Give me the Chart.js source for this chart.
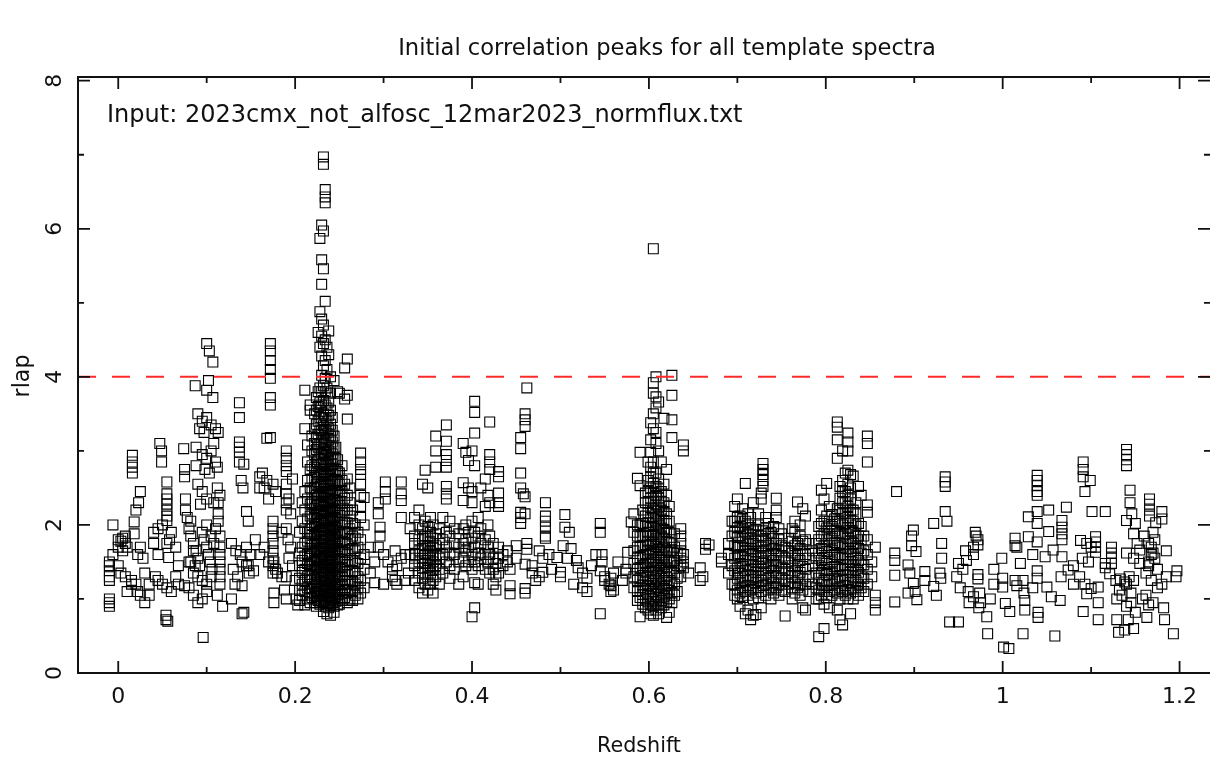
<!DOCTYPE html>
<html>
<head>
<meta charset="utf-8">
<title>Initial correlation peaks</title>
<script src="https://cdn.jsdelivr.net/npm/chart.js@4.4.1/dist/chart.umd.min.js"></script>
<style>
  html, body { margin: 0; padding: 0; background: #fff; }
  #wrap { width: 1210px; height: 759px; }
</style>
</head>
<body>
<div id="wrap"><canvas id="chart" width="1210" height="759"></canvas></div>
<script>
// each entry: [redshift, [rlap values of the templates peaking there]]
const lowZ = [
  [-0.010, [0.9, 0.95, 1.0, 1.25, 1.3, 1.38, 1.45, 1.5]],
  [-0.006, [1.6, 2.0]],
  [0.000, [1.45, 1.7, 1.8]],
  [0.003, [1.35, 1.78]],
  [0.005, [1.65, 1.82]],
  [0.008, [1.3, 1.75, 1.85]],
  [0.010, [1.1, 1.7]],
  [0.015, [1.2, 1.25]],
  [0.016, [2.7, 2.78, 2.85, 2.94]],
  [0.018, [1.88, 2.04]],
  [0.020, [1.2, 2.2]],
  [0.022, [1.1, 1.6]],
  [0.023, [2.3]],
  [0.025, [1.05, 1.7, 2.45]],
  [0.028, [1.55]],
  [0.030, [0.95, 1.35]],
  [0.035, [1.05, 1.2]],
  [0.040, [1.75, 1.9]],
  [0.042, [1.3]],
  [0.045, [1.25, 1.6, 1.95]],
  [0.047, [3.1]],
  [0.049, [2.85, 3.0]],
  [0.050, [1.2, 2.0]],
  [0.054, [0.72, 0.78]],
  [0.055, [1.15, 1.75, 2.06, 2.12, 2.2, 2.28, 2.35, 2.42, 2.58]],
  [0.056, [0.7]],
  [0.057, [1.56]],
  [0.058, [1.8]],
  [0.060, [1.1, 1.9]],
  [0.065, [1.3, 1.7]],
  [0.068, [1.2, 1.45]],
  [0.074, [3.03]],
  [0.075, [1.18, 2.65, 2.75]],
  [0.076, [2.2, 2.35]],
  [0.078, [2.1]],
  [0.080, [1.15, 1.5, 1.95]],
  [0.082, [1.5, 1.85, 2.05]],
  [0.085, [1.05, 1.35, 1.65, 1.75]],
  [0.087, [1.45, 3.88]],
  [0.088, [1.65, 2.8, 3.05]],
  [0.090, [0.95, 1.3, 1.55, 2.55, 3.5]],
  [0.092, [1.45, 3.3]],
  [0.093, [2.28]],
  [0.095, [1.0, 1.25, 1.9, 2.45, 2.95, 3.4]],
  [0.096, [0.48]],
  [0.097, [1.8, 3.25]],
  [0.098, [2.75]],
  [0.100, [1.1, 1.2, 1.7, 2.0, 2.35, 2.9, 3.45, 3.82, 4.45]],
  [0.102, [1.6, 3.95]],
  [0.103, [2.7, 4.35]],
  [0.104, [1.5]],
  [0.105, [1.3, 1.85, 3.0, 3.35]],
  [0.106, [1.4]],
  [0.107, [3.72, 4.2]],
  [0.108, [1.75, 2.3, 3.1]],
  [0.110, [1.95, 2.85, 3.3]],
  [0.112, [1.05, 2.5, 2.78]],
  [0.113, [2.05, 2.15, 2.3, 3.25]],
  [0.115, [1.2, 1.3, 1.4, 1.5, 1.6, 1.7, 1.85, 2.4]],
  [0.118, [0.9]],
  [0.128, [1.0, 1.75]],
  [0.130, [1.4]],
  [0.132, [1.2]],
  [0.133, [1.65]],
  [0.135, [1.3]],
  [0.137, [2.85, 2.98, 3.05, 3.12, 3.45, 3.65]],
  [0.138, [1.6]],
  [0.139, [2.6]],
  [0.140, [0.8, 1.18, 1.5]],
  [0.141, [2.5]],
  [0.142, [0.82, 2.82]],
  [0.145, [1.45, 1.7, 2.18]],
  [0.147, [1.45, 2.05]],
  [0.148, [1.35]],
  [0.150, [1.6]],
  [0.153, [1.38]],
  [0.155, [1.8]],
  [0.160, [1.6, 2.5, 2.65]],
  [0.163, [2.7]],
  [0.165, [1.7, 2.5]],
  [0.168, [2.6, 3.17]],
  [0.170, [1.5, 2.35]],
  [0.172, [3.18, 3.62, 3.72, 3.98, 4.1, 4.22, 4.35, 4.45]],
  [0.175, [1.35, 1.45, 1.55, 1.65, 1.75, 1.85, 1.95, 2.05, 2.55]],
  [0.176, [0.95, 1.08, 1.5]],
  [0.178, [1.4, 2.45]],
  [0.180, [1.35]],
  [0.185, [1.3, 1.9]],
  [0.188, [1.12]],
  [0.190, [1.0, 1.3, 1.95, 2.2, 2.3, 2.42, 2.55, 2.72, 2.8, 2.9, 3.0]],
  [0.192, [1.8]],
  [0.193, [1.55, 2.35]],
  [0.195, [1.7, 2.15]],
  [0.197, [1.45, 2.62]],
  [0.200, [1.25]],
  [0.201, [1.0]],
  [0.203, [0.92]]
];

const peak023 = [
  [0.205, [0.98, 1.12, 1.28, 1.45, 1.62, 1.9]],
  [0.208, [1.05, 1.2, 1.36, 1.52, 1.7, 2.05, 2.3]],
  [0.211, [0.92, 1.1, 1.25, 1.4, 1.58, 1.75, 1.95, 2.2, 2.45, 3.3, 3.82]],
  [0.214, [1.0, 1.15, 1.3, 1.48, 1.6, 1.78, 1.9, 2.08, 2.35, 2.6, 2.85, 3.08]],
  [0.217, [0.95, 1.08, 1.2, 1.33, 1.45, 1.57, 1.68, 1.82, 1.95, 2.12, 2.28, 2.5, 2.75, 3.55, 3.62]],
  [0.219, [1.02, 1.14, 1.26, 1.38, 1.5, 1.62, 1.73, 1.86, 2.0, 2.15, 2.3, 2.45, 2.62, 2.8, 3.0, 3.2]],
  [0.222, [0.95, 1.05, 1.17, 1.28, 1.4, 1.52, 1.63, 1.75, 1.87, 1.98, 2.1, 2.22, 2.36, 2.5, 2.64, 2.78, 2.95, 3.1, 3.3, 3.5]],
  [0.224, [0.9, 1.0, 1.1, 1.22, 1.33, 1.44, 1.55, 1.66, 1.78, 1.9, 2.02, 2.14, 2.26, 2.4, 2.55, 2.7, 2.85, 3.02, 3.18, 3.36, 3.55, 3.72]],
  [0.226, [0.98, 1.08, 1.18, 1.3, 1.42, 1.53, 1.64, 1.75, 1.86, 1.97, 2.08, 2.2, 2.32, 2.45, 2.58, 2.72, 2.88, 3.05, 3.22, 3.4, 3.6, 3.8, 4.6]],
  [0.228, [0.93, 1.03, 1.13, 1.24, 1.35, 1.46, 1.57, 1.68, 1.8, 1.92, 2.04, 2.16, 2.28, 2.4, 2.52, 2.66, 2.8, 2.95, 3.1, 3.28, 3.45, 3.65, 3.85, 4.4, 4.88, 5.87]],
  [0.230, [0.97, 1.07, 1.17, 1.28, 1.39, 1.5, 1.61, 1.72, 1.83, 1.94, 2.06, 2.18, 2.3, 2.42, 2.55, 2.68, 2.82, 2.96, 3.12, 3.28, 3.45, 3.62, 3.8, 4.02, 4.28, 4.55, 4.78, 5.25, 5.58, 6.05]],
  [0.232, [0.83, 0.95, 1.05, 1.15, 1.25, 1.36, 1.47, 1.58, 1.69, 1.8, 1.91, 2.02, 2.13, 2.25, 2.37, 2.49, 2.62, 2.75, 2.89, 3.03, 3.18, 3.34, 3.5, 3.68, 3.88, 4.15, 4.45, 4.7, 5.46, 5.97, 6.87, 6.97]],
  [0.234, [0.9, 1.0, 1.1, 1.2, 1.31, 1.42, 1.53, 1.64, 1.75, 1.86, 1.97, 2.08, 2.2, 2.32, 2.44, 2.57, 2.7, 2.84, 2.98, 3.13, 3.29, 3.45, 3.62, 3.8, 3.98, 4.22, 4.5, 5.02, 6.35, 6.43, 6.53]],
  [0.236, [0.8, 0.94, 1.04, 1.14, 1.25, 1.36, 1.47, 1.58, 1.69, 1.8, 1.92, 2.04, 2.16, 2.28, 2.4, 2.53, 2.66, 2.8, 2.94, 3.08, 3.24, 3.4, 3.58, 3.85, 4.1, 4.4]],
  [0.238, [0.88, 0.98, 1.08, 1.19, 1.3, 1.41, 1.52, 1.63, 1.74, 1.85, 1.96, 2.08, 2.2, 2.32, 2.45, 2.58, 2.72, 2.86, 3.0, 3.15, 3.3, 3.48, 3.66, 4.3, 4.62]],
  [0.240, [0.78, 0.92, 1.02, 1.12, 1.23, 1.34, 1.45, 1.56, 1.67, 1.78, 1.89, 2.0, 2.12, 2.24, 2.36, 2.49, 2.62, 2.76, 2.9, 3.05, 3.2, 3.36, 3.55, 3.78, 4.0]],
  [0.242, [0.95, 1.05, 1.16, 1.27, 1.38, 1.49, 1.6, 1.71, 1.82, 1.94, 2.06, 2.18, 2.3, 2.42, 2.55, 2.68, 2.82, 2.96, 3.12, 3.28, 3.45]],
  [0.244, [0.82, 0.9, 1.0, 1.1, 1.21, 1.32, 1.43, 1.54, 1.65, 1.76, 1.87, 1.98, 2.1, 2.22, 2.34, 2.47, 2.6, 2.74, 2.88, 3.04, 3.2, 3.95]],
  [0.246, [0.97, 1.07, 1.18, 1.29, 1.4, 1.51, 1.62, 1.73, 1.84, 1.96, 2.08, 2.2, 2.33, 2.46, 2.6, 2.75, 2.9, 3.05]],
  [0.248, [0.92, 1.02, 1.13, 1.24, 1.35, 1.46, 1.57, 1.68, 1.8, 1.92, 2.04, 2.17, 2.3, 2.44, 2.58, 2.72, 2.88, 3.8]],
  [0.250, [0.93, 1.0, 1.1, 1.2, 1.31, 1.42, 1.53, 1.64, 1.76, 1.88, 2.0, 2.13, 2.26, 2.4, 2.55, 2.7, 3.78]],
  [0.253, [0.98, 1.08, 1.19, 1.3, 1.42, 1.54, 1.66, 1.78, 1.9, 2.03, 2.16, 2.3, 2.45, 2.6, 2.8]],
  [0.256, [1.02, 1.13, 1.25, 1.37, 1.5, 1.63, 1.76, 1.9, 2.04, 2.2, 2.36, 2.55, 3.7, 4.12]],
  [0.259, [0.95, 1.08, 1.2, 1.33, 1.46, 1.6, 1.74, 1.88, 2.03, 2.2, 2.4, 2.62, 3.43, 3.75, 4.24]],
  [0.262, [1.0, 1.12, 1.25, 1.38, 1.52, 1.66, 1.8, 1.95, 2.12, 2.3, 2.5]],
  [0.265, [0.98, 1.1, 1.23, 1.37, 1.52, 1.68, 1.85, 2.02, 2.2]],
  [0.268, [1.05, 1.2, 1.35, 1.5, 1.65, 1.82, 2.0]],
  [0.271, [1.0, 1.15, 1.3, 1.48, 1.7, 1.9]],
  [0.274, [1.08, 1.25, 1.55, 1.8, 2.1, 2.25, 2.4, 2.55, 2.68, 2.75, 2.85, 2.97]],
  [0.278, [1.15, 1.4, 1.6, 2.0, 2.37]],
  [0.285, [1.35, 1.7]],
  [0.290, [1.22, 1.5]],
  [0.294, [1.7, 2.15, 2.3]],
  [0.296, [1.85, 1.97]],
  [0.300, [1.2, 1.6]],
  [0.302, [2.35, 2.45, 2.58]],
  [0.305, [1.5]],
  [0.310, [1.3, 1.4]],
  [0.313, [1.25, 1.65]],
  [0.315, [1.2, 1.45]],
  [0.320, [1.55, 2.1, 2.33, 2.42, 2.58]],
  [0.325, [1.25, 1.6]],
  [0.328, [1.35]],
  [0.330, [1.6, 1.95]]
];

const midZ = [
  [0.335, [1.25, 1.45, 1.55, 1.6, 1.75, 1.85, 2.1]],
  [0.340, [1.15, 1.35, 1.5, 1.65, 1.8, 2.0, 2.2]],
  [0.344, [1.08, 1.28, 1.42, 1.55, 1.68, 1.82, 1.95, 2.55]],
  [0.347, [1.2, 1.35, 1.48, 1.6, 1.72, 1.85, 2.05, 2.74]],
  [0.350, [1.12, 1.3, 1.42, 1.52, 1.62, 1.72, 1.84, 1.98, 2.5]],
  [0.353, [1.2, 1.35, 1.45, 1.55, 1.65, 1.78, 1.9, 2.1]],
  [0.356, [1.08, 1.25, 1.4, 1.5, 1.6, 1.7, 1.82, 2.0]],
  [0.359, [1.3, 1.45, 1.58, 1.72, 1.88, 2.78, 3.0, 3.2]],
  [0.363, [1.2, 1.4, 1.55, 1.75, 1.95]],
  [0.367, [1.35, 1.6, 1.8, 2.1]],
  [0.371, [1.5, 1.7, 1.9, 2.35, 2.42, 2.52, 2.78, 2.87, 2.95, 3.13, 3.35]],
  [0.375, [1.28, 1.45, 1.62, 1.85, 2.05]],
  [0.380, [1.4, 1.6, 1.75, 1.95]],
  [0.385, [1.2, 1.5, 1.7, 1.88]],
  [0.390, [1.3, 1.55, 1.75, 1.95, 2.33, 2.57, 3.1]],
  [0.393, [1.45, 1.65, 1.8, 2.0, 2.98]],
  [0.396, [1.5, 1.7, 1.9, 2.5, 2.87]],
  [0.400, [0.76, 1.4, 1.6, 1.82, 2.05, 2.3, 2.45, 3.0]],
  [0.403, [0.88, 1.22, 1.5, 1.7, 1.9, 2.8, 3.24, 3.52, 3.67]],
  [0.407, [1.2, 1.45, 1.62, 1.85, 2.1]],
  [0.410, [1.55, 1.75, 1.95, 2.5]],
  [0.415, [1.4, 1.6, 1.8, 2.25, 2.62]],
  [0.418, [1.5, 1.7, 2.0, 2.4]],
  [0.420, [1.35, 1.6, 1.85, 2.3, 2.75, 2.85, 2.95, 3.39]],
  [0.424, [1.2, 1.4, 1.55, 1.75]],
  [0.427, [1.12, 1.3, 1.48]],
  [0.430, [1.35, 1.55, 1.7, 2.25, 2.3, 2.43, 2.65, 2.72]],
  [0.435, [1.45, 1.6]],
  [0.440, [1.5, 1.65]],
  [0.443, [1.07, 1.18, 1.4]],
  [0.450, [1.55, 1.72]],
  [0.455, [2.02, 2.1, 2.17, 2.5, 2.7, 3.03, 3.18]],
  [0.458, [2.42]],
  [0.460, [1.08, 1.14, 1.47, 2.15, 2.38, 3.33, 3.42, 3.5]],
  [0.462, [1.67, 1.75, 3.85]],
  [0.468, [1.35, 1.45]],
  [0.472, [1.25]],
  [0.476, [1.3, 1.65]],
  [0.480, [1.36, 1.55]],
  [0.483, [1.82, 1.85, 1.97, 2.05, 2.12, 2.3]],
  [0.487, [1.6]],
  [0.490, [1.4]],
  [0.496, [1.56]],
  [0.500, [1.3, 1.36]],
  [0.503, [1.72]],
  [0.505, [1.97, 2.14]],
  [0.508, [1.55]],
  [0.510, [1.9]],
  [0.512, [1.68]],
  [0.515, [1.2]],
  [0.518, [1.52]],
  [0.520, [1.42]],
  [0.525, [1.15, 1.35]],
  [0.530, [1.1, 1.28]],
  [0.535, [1.45]],
  [0.540, [1.6]],
  [0.545, [0.8, 1.38, 1.9, 2.02]],
  [0.547, [1.5, 1.6]],
  [0.550, [1.25, 1.3]],
  [0.555, [1.2]],
  [0.557, [1.1, 1.18, 1.28]],
  [0.560, [1.12, 1.35]],
  [0.565, [1.5]],
  [0.570, [1.25]],
  [0.574, [1.35, 1.4]],
  [0.576, [1.63]],
  [0.580, [2.04]]
];

const peak061 = [
  [0.583, [1.15, 1.3, 1.48, 1.65, 1.9, 2.15]],
  [0.587, [0.98, 1.1, 1.25, 1.4, 1.55, 1.7, 1.85, 2.0, 2.63]],
  [0.590, [0.76, 1.02, 1.15, 1.28, 1.42, 1.56, 1.7, 1.84, 2.0, 2.53, 2.98]],
  [0.593, [0.93, 1.06, 1.19, 1.32, 1.45, 1.58, 1.72, 1.86, 2.02, 2.2]],
  [0.596, [0.88, 1.0, 1.12, 1.24, 1.36, 1.48, 1.6, 1.72, 1.85, 1.98, 2.12, 2.3, 2.43]],
  [0.599, [0.85, 0.96, 1.07, 1.18, 1.3, 1.42, 1.54, 1.66, 1.78, 1.9, 2.03, 2.16, 2.3, 2.45, 2.6, 2.85]],
  [0.602, [0.8, 0.92, 1.03, 1.14, 1.26, 1.38, 1.5, 1.62, 1.74, 1.86, 1.98, 2.1, 2.23, 2.36, 2.5, 2.65, 2.78, 2.98, 3.15, 3.38]],
  [0.605, [0.78, 0.9, 1.0, 1.1, 1.21, 1.32, 1.43, 1.54, 1.65, 1.76, 1.87, 1.98, 2.09, 2.2, 2.32, 2.44, 2.56, 2.7, 2.85, 3.3, 3.5, 3.78, 3.92, 5.73]],
  [0.608, [0.85, 0.96, 1.06, 1.16, 1.27, 1.38, 1.49, 1.6, 1.71, 1.82, 1.93, 2.04, 2.15, 2.27, 2.4, 2.52, 2.7, 3.1, 3.25, 3.58, 3.73, 4.0]],
  [0.611, [0.8, 0.92, 1.02, 1.12, 1.23, 1.34, 1.45, 1.56, 1.67, 1.78, 1.89, 2.0, 2.12, 2.24, 2.36, 2.5, 2.62, 3.0, 3.66]],
  [0.614, [0.88, 0.98, 1.08, 1.19, 1.3, 1.41, 1.52, 1.63, 1.74, 1.85, 1.96, 2.08, 2.2, 2.32, 2.45, 2.85]],
  [0.617, [0.92, 1.03, 1.14, 1.25, 1.36, 1.47, 1.58, 1.7, 1.82, 1.94, 2.06, 2.18, 2.3, 2.55, 3.44]],
  [0.620, [0.75, 0.96, 1.07, 1.18, 1.3, 1.42, 1.54, 1.66, 1.78, 1.9, 2.02, 2.15, 2.4, 2.75]],
  [0.623, [0.82, 1.0, 1.12, 1.25, 1.38, 1.5, 1.63, 1.76, 1.9, 2.05, 2.25]],
  [0.626, [0.95, 1.08, 1.22, 1.36, 1.5, 1.65, 1.8, 3.18, 3.42, 3.75, 4.02]],
  [0.629, [1.05, 1.2, 1.35, 1.52, 1.7, 1.88]],
  [0.632, [1.1, 1.28, 1.45, 1.62]],
  [0.636, [1.3, 1.45, 1.55, 1.65, 1.75, 1.85, 1.95]],
  [0.639, [1.42, 1.5, 1.6, 3.0, 3.08]],
  [0.645, [1.35]],
  [0.658, [1.25, 1.42]],
  [0.661, [1.3]],
  [0.664, [1.67, 1.75]],
  [0.668, [1.73]],
  [0.682, [1.5, 1.55]],
  [0.690, [1.35, 1.6, 1.75]],
  [0.694, [1.2, 1.45, 1.85, 2.05]]
];

const cluster072 = [
  [0.697, [1.05, 1.2, 1.38, 1.55, 1.72, 1.9, 2.05, 2.25]],
  [0.700, [1.0, 1.12, 1.28, 1.42, 1.58, 1.7, 1.83, 1.96, 2.1, 2.35]],
  [0.703, [0.9, 1.08, 1.22, 1.35, 1.48, 1.6, 1.72, 1.85, 1.98, 2.12]],
  [0.706, [1.02, 1.15, 1.3, 1.44, 1.57, 1.7, 1.82, 1.95, 2.08, 2.22]],
  [0.709, [0.8, 1.1, 1.25, 1.38, 1.52, 1.65, 1.78, 1.9, 2.05, 2.56]],
  [0.712, [0.85, 1.05, 1.18, 1.32, 1.46, 1.6, 1.74, 1.88, 2.0, 2.15]],
  [0.715, [0.72, 1.12, 1.26, 1.4, 1.54, 1.68, 1.82, 1.96, 2.1]],
  [0.718, [0.78, 1.0, 1.15, 1.3, 1.45, 1.6, 1.75, 1.92, 2.3]],
  [0.721, [0.79, 1.08, 1.22, 1.36, 1.5, 1.64, 1.78, 1.94]],
  [0.724, [1.02, 1.15, 1.3, 1.44, 1.58, 1.72, 1.86, 2.0, 2.15]],
  [0.727, [0.88, 1.1, 1.25, 1.4, 1.55, 1.7, 1.85, 2.35, 2.43]],
  [0.729, [1.18, 1.32, 1.48, 1.62, 1.78, 1.92, 2.52, 2.6, 2.68, 2.75, 2.83]],
  [0.732, [1.05, 1.2, 1.35, 1.5, 1.65, 1.8, 1.95, 2.1]],
  [0.735, [1.12, 1.28, 1.42, 1.58, 1.72, 1.88, 2.02]],
  [0.738, [1.0, 1.15, 1.3, 1.45, 1.6, 1.75, 1.9]],
  [0.741, [1.08, 1.22, 1.38, 1.52, 1.68, 1.82, 1.98]],
  [0.744, [1.15, 1.3, 1.45, 1.6, 1.75, 2.1, 2.2, 2.36]],
  [0.747, [1.05, 1.2, 1.35, 1.5, 1.65, 1.8, 1.95]],
  [0.750, [1.12, 1.28, 1.42, 1.58, 1.72, 1.88]],
  [0.754, [0.77, 1.1, 1.25, 1.4, 1.55, 1.7]],
  [0.758, [1.2, 1.35, 1.5, 1.65, 1.82]],
  [0.762, [1.0, 1.15, 1.3, 1.45, 1.62, 1.78, 1.95]],
  [0.765, [1.08, 1.22, 1.38, 1.55, 1.72, 1.9, 2.05]],
  [0.768, [1.15, 1.3, 1.45, 1.6, 1.75, 2.31]],
  [0.771, [1.05, 1.2, 1.36, 1.52, 1.68, 1.85, 2.0]],
  [0.774, [0.88, 1.12, 1.28, 1.44, 1.6, 1.78, 2.22]],
  [0.777, [0.85, 1.2, 1.4, 1.6, 1.8, 2.12]],
  [0.781, [1.1, 1.3, 1.55, 1.75]],
  [0.785, [1.2, 1.45, 1.65]]
];

const cluster082 = [
  [0.789, [1.0, 1.15, 1.35, 1.55, 1.75]],
  [0.792, [0.49, 1.0, 1.12, 1.28, 1.45, 1.62, 1.8, 1.98]],
  [0.795, [1.05, 1.2, 1.36, 1.52, 1.68, 1.85, 2.02, 2.2, 2.47]],
  [0.798, [0.6, 0.93, 1.1, 1.25, 1.4, 1.56, 1.72, 1.88, 2.05, 2.35]],
  [0.801, [1.02, 1.18, 1.33, 1.48, 1.64, 1.8, 1.96, 2.12, 2.56]],
  [0.804, [0.88, 1.1, 1.25, 1.4, 1.56, 1.72, 1.88, 2.05, 2.25]],
  [0.807, [1.05, 1.2, 1.35, 1.5, 1.66, 1.82, 1.98, 2.14]],
  [0.810, [1.12, 1.28, 1.44, 1.6, 1.76, 1.92, 2.08]],
  [0.813, [0.85, 1.08, 1.24, 1.4, 1.56, 1.72, 1.88, 2.05, 2.22, 2.9, 3.15, 3.32, 3.39]],
  [0.816, [0.72, 1.0, 1.15, 1.3, 1.45, 1.6, 1.75, 1.9, 2.05, 2.2, 2.36, 2.52]],
  [0.819, [0.65, 1.1, 1.25, 1.4, 1.55, 1.7, 1.85, 2.0, 2.15, 2.3, 2.45, 2.6, 3.0]],
  [0.822, [1.05, 1.18, 1.32, 1.46, 1.6, 1.74, 1.88, 2.02, 2.16, 2.3, 2.45, 2.7]],
  [0.825, [1.0, 1.12, 1.26, 1.4, 1.54, 1.68, 1.82, 1.96, 2.1, 2.25, 2.4, 2.55, 2.74, 3.0, 3.12, 3.24]],
  [0.828, [0.8, 1.08, 1.22, 1.36, 1.5, 1.64, 1.78, 1.92, 2.06, 2.2, 2.35, 2.5, 2.68]],
  [0.831, [1.0, 1.15, 1.3, 1.45, 1.6, 1.75, 1.9, 2.05, 2.2, 2.66]],
  [0.834, [1.1, 1.25, 1.4, 1.55, 1.7, 1.85, 2.0, 2.15, 2.3]],
  [0.837, [1.05, 1.2, 1.36, 1.52, 1.68, 1.85, 2.02, 2.52]],
  [0.840, [1.15, 1.3, 1.46, 1.62, 1.8, 1.98, 2.4]],
  [0.843, [1.1, 1.28, 1.46, 1.65, 1.85]],
  [0.847, [1.2, 1.4, 1.6, 1.8, 2.17, 2.27, 2.85, 3.1, 3.2]],
  [0.852, [1.3, 1.5]],
  [0.856, [0.85, 0.95, 1.05, 1.7]]
];

const highZ = [
  [0.878, [0.96, 1.32, 1.52, 1.62]],
  [0.880, [2.45]],
  [0.893, [1.08, 1.46]],
  [0.895, [1.35]],
  [0.897, [1.72, 1.85]],
  [0.899, [1.21, 1.93]],
  [0.901, [1.1]],
  [0.902, [1.64]],
  [0.903, [0.99]],
  [0.912, [1.25, 1.37]],
  [0.922, [1.17, 2.02]],
  [0.925, [1.05]],
  [0.929, [1.35]],
  [0.930, [1.28]],
  [0.931, [1.55, 1.75]],
  [0.935, [2.18, 2.52, 2.58, 2.65]],
  [0.937, [2.05]],
  [0.940, [0.69]],
  [0.948, [1.3]],
  [0.950, [0.69, 1.48]],
  [0.952, [1.15]],
  [0.955, [1.4]],
  [0.958, [1.65]],
  [0.959, [1.52]],
  [0.961, [1.1]],
  [0.962, [0.95]],
  [0.967, [1.03, 1.6, 1.7]],
  [0.969, [1.9]],
  [0.970, [1.85]],
  [0.972, [1.27, 1.33, 1.73, 1.8]],
  [0.973, [0.88]],
  [0.974, [1.08]],
  [0.975, [0.95]],
  [0.982, [0.76]],
  [0.983, [0.53]],
  [0.986, [1.0]],
  [0.990, [1.2, 1.4]],
  [0.999, [1.55]],
  [1.000, [1.16, 1.28]],
  [1.001, [0.35]],
  [1.003, [0.94]],
  [1.007, [0.33]],
  [1.008, [0.83]],
  [1.014, [1.25, 1.72, 1.82]],
  [1.016, [1.18, 1.7]],
  [1.020, [1.48]],
  [1.023, [0.53, 1.25]],
  [1.024, [1.08]],
  [1.025, [0.85, 0.98]],
  [1.029, [1.84, 2.11]],
  [1.034, [1.15, 1.6]],
  [1.039, [1.28, 1.38, 1.77, 2.02, 2.18, 2.4, 2.45, 2.53, 2.6, 2.67]],
  [1.040, [0.75, 0.82]],
  [1.048, [1.57]],
  [1.050, [1.16]],
  [1.052, [1.91, 2.2]],
  [1.055, [1.03]],
  [1.057, [1.66]],
  [1.059, [0.5]],
  [1.065, [0.98]],
  [1.066, [1.3]],
  [1.067, [1.57, 1.8, 1.88, 1.97, 2.06]],
  [1.072, [2.24]],
  [1.074, [1.39]],
  [1.080, [1.2, 1.45]],
  [1.087, [1.3]],
  [1.088, [1.79]],
  [1.090, [1.55]],
  [1.091, [0.83, 2.65, 2.75, 2.85]],
  [1.093, [1.2, 2.45]],
  [1.095, [1.07, 1.75]],
  [1.097, [1.5]],
  [1.099, [2.6]],
  [1.100, [1.14, 1.7]],
  [1.101, [2.18]],
  [1.105, [1.63, 1.7, 1.77, 1.84]],
  [1.108, [0.72, 0.95, 1.16]],
  [1.116, [1.42, 1.48, 2.18]],
  [1.121, [1.34]],
  [1.123, [1.48, 1.55, 1.62, 1.7]],
  [1.128, [1.25]],
  [1.129, [0.72, 1.0]],
  [1.131, [0.55]],
  [1.132, [1.12]],
  [1.133, [1.27]],
  [1.135, [1.05]],
  [1.138, [0.58, 1.23]],
  [1.140, [0.9, 1.2, 1.62, 2.06, 2.8, 2.88, 2.95, 3.02]],
  [1.142, [0.72]],
  [1.143, [1.3]],
  [1.144, [2.3, 2.47]],
  [1.145, [0.95, 1.08]],
  [1.146, [2.15]],
  [1.148, [0.6, 1.25, 1.55, 1.88]],
  [1.150, [0.82, 2.02]],
  [1.152, [1.75]],
  [1.155, [1.48, 1.66]],
  [1.158, [1.0]],
  [1.160, [1.85]],
  [1.162, [1.05, 1.35]],
  [1.163, [0.75]],
  [1.165, [0.92, 1.45, 1.5, 1.75]],
  [1.166, [2.12, 2.2, 2.28, 2.35]],
  [1.168, [1.25, 1.6, 1.7]],
  [1.170, [0.95, 1.62, 1.9]],
  [1.172, [1.55, 1.8]],
  [1.173, [2.03]],
  [1.175, [1.15, 1.4]],
  [1.180, [1.2, 2.08, 2.18]],
  [1.182, [0.88]],
  [1.183, [0.72]],
  [1.185, [1.3, 1.65]],
  [1.193, [0.53]],
  [1.196, [1.3]],
  [1.197, [1.38]]
];

const xTicks = [0, 0.2, 0.4, 0.6, 0.8, 1.0, 1.2];
const xTickLabels = ['0', '0.2', '0.4', '0.6', '0.8', '1', '1.2'];
const xMinorTicks = [0.1, 0.3, 0.5, 0.7, 0.9, 1.1];
const yTicks = [0, 2, 4, 6, 8];
const yTickLabels = ['0', '2', '4', '6', '8'];
const yMinorTicks = [1, 3, 5, 7];
const threshold = 4;

const X_MIN = -0.0455, X_MAX = 1.2344;
const Y_MIN = 0, Y_MAX = 8.05;

const FONT = '"DejaVu Sans", sans-serif';

function toPoints(columns) {
    return columns.flatMap(([z, rs]) => rs.map(r => ({ x: z, y: r })));
}

// font size that makes text span the given width
function fitFont(ctx, text, width) {
    ctx.font = '20px ' + FONT;
    return 20 * width / ctx.measureText(text).width;
}

const framePlugin = {
    id: 'frame',
    afterDraw(chart) {
        const ctx = chart.ctx;
        const a = chart.chartArea;
        const xs = chart.scales.x, ys = chart.scales.y;
        ctx.save();
        ctx.strokeStyle = '#111';
        ctx.lineWidth = 2;
        // the right edge of the box sits just outside the canvas
        ctx.strokeRect(a.left, a.top, a.right + 2 - a.left, a.bottom - a.top);

        ctx.lineWidth = 1.8;
        ctx.beginPath();
        const tick = (list, len) => {
            list.forEach(v => {
                const px = xs.getPixelForValue(v);
                ctx.moveTo(px, a.bottom); ctx.lineTo(px, a.bottom - len);
                ctx.moveTo(px, a.top); ctx.lineTo(px, a.top + len);
            });
        };
        const ytick = (list, len) => {
            list.forEach(v => {
                const py = ys.getPixelForValue(v);
                ctx.moveTo(a.left, py); ctx.lineTo(a.left + len, py);
                ctx.moveTo(a.right, py); ctx.lineTo(a.right - len, py);
            });
        };
        tick(xTicks, 12); tick(xMinorTicks, 6);
        ytick(yTicks, 12); ytick(yMinorTicks, 6);
        ctx.stroke();

        ctx.fillStyle = '#111';
        ctx.font = '22px ' + FONT;
        ctx.textAlign = 'center';
        ctx.textBaseline = 'alphabetic';
        xTicks.forEach((v, i) => {
            ctx.fillText(xTickLabels[i], xs.getPixelForValue(v), 703);
        });
        yTicks.forEach((v, i) => {
            ctx.save();
            ctx.translate(61, ys.getPixelForValue(v));
            ctx.rotate(-Math.PI / 2);
            ctx.fillText(yTickLabels[i], 0, 0);
            ctx.restore();
        });

        const title = 'Initial correlation peaks for all template spectra';
        ctx.font = fitFont(ctx, title, 538) + 'px ' + FONT;
        ctx.fillText(title, 667, 55);

        const xlab = 'Redshift';
        ctx.font = fitFont(ctx, xlab, 84) + 'px ' + FONT;
        ctx.fillText(xlab, 639, 752);

        const ylab = 'rlap';
        ctx.font = fitFont(ctx, ylab, 43) + 'px ' + FONT;
        ctx.save();
        ctx.translate(29, 376);
        ctx.rotate(-Math.PI / 2);
        ctx.fillText(ylab, 0, 0);
        ctx.restore();

        const note = 'Input: 2023cmx_not_alfosc_12mar2023_normflux.txt';
        ctx.font = fitFont(ctx, note, 636) + 'px ' + FONT;
        ctx.textAlign = 'left';
        ctx.fillText(note, 107, 122);
        ctx.restore();
    }
};

document.addEventListener('DOMContentLoaded', () => {
    const points = [lowZ, peak023, midZ, peak061, cluster072, cluster082, highZ].flatMap(toPoints);

    new Chart(document.getElementById('chart').getContext('2d'), {
        type: 'scatter',
        data: {
            datasets: [
                {
                    label: 'threshold',
                    type: 'line',
                    data: [{ x: X_MIN, y: threshold }, { x: X_MAX, y: threshold }],
                    borderColor: '#ff2a2a',
                    borderWidth: 2,
                    borderDash: [18, 16],
                    pointRadius: 0,
                    fill: false,
                    order: 0
                },
                {
                    label: 'peaks',
                    data: points,
                    pointStyle: 'rect',
                    pointRadius: 7,
                    pointBorderWidth: 1.1,
                    borderColor: '#000',
                    backgroundColor: 'rgba(0,0,0,0)',
                    order: 1
                }
            ]
        },
        options: {
            responsive: false,
            animation: false,
            devicePixelRatio: 1,
            events: [],
            layout: { autoPadding: false, padding: { left: 78, top: 77, right: 0, bottom: 86 } },
            plugins: { legend: { display: false }, tooltip: { enabled: false } },
            scales: {
                x: { type: 'linear', min: X_MIN, max: X_MAX, display: false },
                y: { type: 'linear', min: Y_MIN, max: Y_MAX, display: false }
            }
        },
        plugins: [framePlugin]
    });
});
</script>
</body>
</html>
